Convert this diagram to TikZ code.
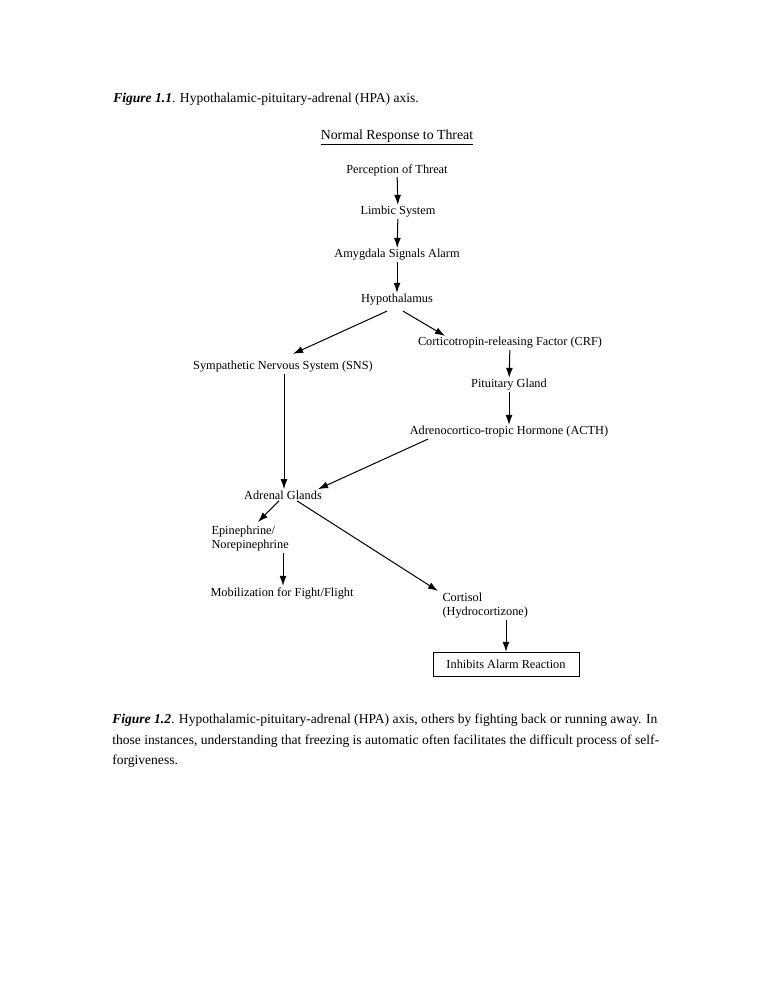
\documentclass[tikz,border=0pt]{standalone}
\usepackage{fontspec}
\setmainfont{Liberation Serif}
\usetikzlibrary{arrows.meta,calc}
\tikzset{
  lbl/.style={inner sep=1pt, font=\fontsize{9.8}{11.5}\selectfont},
  captxt/.style={anchor=base west, inner sep=0pt, font=\fontsize{10.8}{13}\selectfont},
  arr/.style={-{Latex[length=8pt,width=5.5pt]}, line width=0.8pt},
}
\begin{document}
\begin{tikzpicture}[x=0.02797cm,y=-0.02797cm]
    \useasboundingbox[fill=white] (0,0) rectangle (772,1000);
    \node[captxt] (cap1) at (113,102) {\textbf{\textit{Figure 1.1}}. Hypothalamic-pituitary-adrenal (HPA) axis.};

    % main chain
    \node[lbl, font=\fontsize{11}{13}\selectfont] (title) at (397,137) {\underline{Normal Response to Threat}};
    \node[lbl] (perc) at (397,170) {Perception of Threat};
    \node[lbl] (limb) at (398,212) {Limbic System};
    \node[lbl] (amyg) at (397,255) {Amygdala Signals Alarm};
    \node[lbl] (hypo) at (397,300) {Hypothalamus};
    \draw[arr] (perc) -- (limb);
    \draw[arr] (limb) -- (amyg);
    \draw[arr] (amyg) -- (hypo);

    % right branch
    \node[lbl] (crf) at (510,343) {Corticotropin-releasing Factor (CRF)};
    \node[lbl] (pit) at (509,385) {Pituitary Gland};
    \node[lbl] (acth) at (509,432) {Adrenocortico-tropic Hormone (ACTH)};
    \draw[arr] ($(hypo.south)+(6,4)$) -- ($(crf.north)+(-65,0)$);
    \draw[arr] (crf) -- (pit);
    \draw[arr] (pit) -- (acth);

    % left branch
    \node[lbl] (sns) at (283,367) {Sympathetic Nervous System (SNS)};
    \node[lbl] (adr) at (283,495) {Adrenal Glands};
    \draw[arr] ($(hypo.south)+(-10,4)$) -- ($(sns.north)+(10,-6)$);
    \draw[arr] ($(sns.south)+(1,0)$) -- ($(adr.north)+(1,0)$);
    \draw[arr] ($(acth.south)+(-81,0)$) -- ($(adr.north)+(35,0)$);

    % adrenal outputs
    \node[lbl, align=left, anchor=north west] (epi) at (210,524) {Epinephrine/\\Norepinephrine};
    \node[lbl] (mob) at (282,593) {Mobilization for Fight/Flight};
    \node[lbl, align=left, anchor=north west] (cort) at (441,591) {Cortisol\\(Hydrocortizone)};
    \node[lbl, draw, thin, minimum width=116pt, minimum height=19pt] (inh) at (506,664) {Inhibits Alarm Reaction};
    \draw[arr] ($(adr.south)+(-4,0)$) -- ($(epi.north west)+(48,-2)$);
    \draw[arr] ($(epi.south west)+(73,0)$) -- ($(mob.north)+(1,0)$);
    \draw[arr] ($(adr.south)+(14,0)$) -- ($(cort.north west)+(-3,0)$);
    \draw[arr] ($(cort.south west)+(65,0)$) -- (inh);

    \node[captxt] (cap2a) at (112,723) {\textbf{\textit{Figure 1.2}}. Hypothalamic-pituitary-adrenal (HPA) axis, others by fighting back or running away. In};
    \node[captxt] (cap2b) at (112,744) {those instances, understanding that freezing is automatic often facilitates the difficult process of self-};
    \node[captxt] (cap2c) at (112,764) {forgiveness.};
\end{tikzpicture}
\end{document}
